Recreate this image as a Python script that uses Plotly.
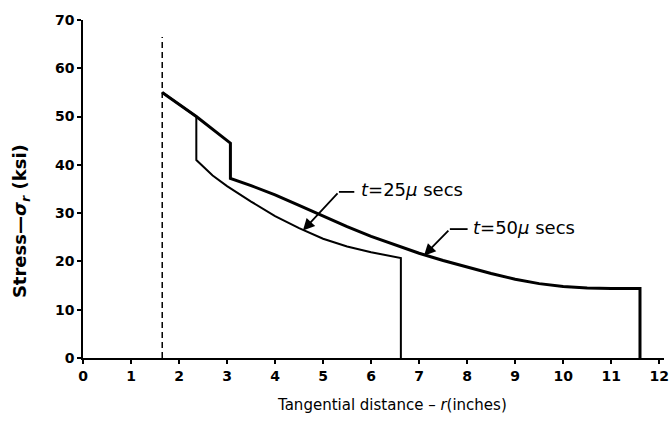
import plotly.graph_objects as go

# t = 25 microseconds (thin curve)
r_25 = [1.65, 2.36, 2.36, 2.7, 3.0, 3.5, 4.0, 4.5, 5.0, 5.5, 6.0, 6.62, 6.62]
s_25 = [55.0, 50.0, 41.0, 37.8, 35.6, 32.4, 29.4, 26.9, 24.7, 23.1, 21.9, 20.7, 0.0]

# t = 50 microseconds (thick curve)
r_50 = [1.65, 2.36, 3.07, 3.07, 3.5, 4.0, 4.5, 5.0, 5.5, 6.0, 6.5, 7.0, 7.5, 8.0,
        8.5, 9.0, 9.5, 10.0, 10.5, 11.0, 11.6, 11.6]
s_50 = [55.0, 50.0, 44.5, 37.2, 35.7, 33.8, 31.6, 29.4, 27.2, 25.2, 23.4, 21.7, 20.2, 18.8,
        17.5, 16.3, 15.4, 14.8, 14.5, 14.4, 14.4, 0.0]

# dashed reference line
r_ref = [1.65, 1.65]
s_ref = [0.0, 66.5]

x_ticks = list(range(0, 13))
y_ticks = list(range(0, 71, 10))

font_fam = "DejaVu Sans, sans-serif"

fig = go.Figure()
fig.add_trace(go.Scatter(x=r_ref, y=s_ref, mode="lines",
                         line=dict(color="black", width=1.5, dash="6px,4px"),
                         showlegend=False, hoverinfo="skip"))
fig.add_trace(go.Scatter(x=r_25, y=s_25, mode="lines",
                         line=dict(color="black", width=2),
                         showlegend=False, name="t=25 μsecs"))
fig.add_trace(go.Scatter(x=r_50, y=s_50, mode="lines",
                         line=dict(color="black", width=3),
                         showlegend=False, name="t=50 μsecs"))

# leader lines (horizontal parts)
fig.add_shape(type="line", x0=5.33, y0=34.4, x1=5.65, y1=34.4,
              line=dict(color="black", width=1.8))
fig.add_shape(type="line", x0=7.64, y0=26.7, x1=8.01, y1=26.7,
              line=dict(color="black", width=1.8))

# arrows
fig.add_annotation(x=4.58, y=26.4, ax=5.33, ay=34.4, axref="x", ayref="y",
                   xref="x", yref="y", text="", showarrow=True,
                   arrowhead=2, arrowsize=1.3, arrowwidth=1.8, arrowcolor="black")
fig.add_annotation(x=7.1, y=21.2, ax=7.64, ay=26.7, axref="x", ayref="y",
                   xref="x", yref="y", text="", showarrow=True,
                   arrowhead=2, arrowsize=1.3, arrowwidth=1.8, arrowcolor="black")

# labels
fig.add_annotation(x=5.74, y=34.8, xref="x", yref="y", text="<i>t</i>=25<i>μ</i> secs",
                   showarrow=False, xanchor="left", yanchor="middle",
                   font=dict(family=font_fam, size=18, color="black"))
fig.add_annotation(x=8.08, y=27.1, xref="x", yref="y", text="<i>t</i>=50<i>μ</i> secs",
                   showarrow=False, xanchor="left", yanchor="middle",
                   font=dict(family=font_fam, size=18, color="black"))

# axis titles
fig.add_annotation(x=0.532, y=-0.139, xref="paper", yref="paper",
                   text="Tangential distance – <i>r</i>(inches)", showarrow=False,
                   xanchor="center", yanchor="middle",
                   font=dict(family=font_fam, size=15, color="black"))
fig.add_annotation(x=-0.1067, y=0.405, xref="paper", yref="paper",
                   text="Stress—<i>σ</i><sub><i>r</i></sub> (ksi)", showarrow=False,
                   textangle=-90, xanchor="center", yanchor="middle",
                   font=dict(family=font_fam, size=18, color="black", weight="bold"))

fig.update_xaxes(range=[0, 12.1], tickvals=x_ticks, ticktext=[str(v) for v in x_ticks],
                 showgrid=False, zeroline=False, showline=True, linecolor="black",
                 linewidth=1.5, ticks="outside", ticklen=4, tickwidth=1.5,
                 tickcolor="black", automargin=False,
                 tickfont=dict(family=font_fam, size=14, color="black", weight="bold"))
fig.update_yaxes(range=[0, 70], tickvals=y_ticks, ticktext=[str(v) for v in y_ticks],
                 showgrid=False, zeroline=False, showline=True, linecolor="black",
                 linewidth=1.5, ticks="outside", ticklen=4, tickwidth=1.5,
                 tickcolor="black", automargin=False,
                 tickfont=dict(family=font_fam, size=14, color="black", weight="bold"))

fig.update_layout(width=669, height=422,
                  margin=dict(l=83, r=5, t=20, b=64),
                  plot_bgcolor="white", paper_bgcolor="white",
                  showlegend=False)

fig.write_html("out.html",
               config={"responsive": False, "displayModeBar": False},
               post_script="document.body.style.margin='0';document.body.style.overflow='hidden';")
